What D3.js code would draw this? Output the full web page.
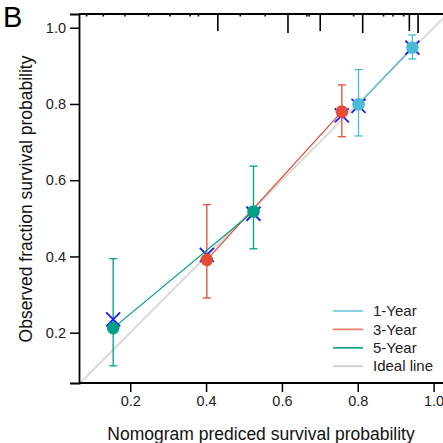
<!DOCTYPE html>
<html>
<head>
<meta charset="utf-8">
<script src="https://cdn.jsdelivr.net/npm/d3@7"></script>
<style>
  html, body { margin: 0; padding: 0; background: #fff; }
  svg { display: block; font-family: "Liberation Sans", Arial, sans-serif; }
</style>
</head>
<body>
<script>
// calibration series (predicted, observed, lower, upper, bias-corrected)
const groups = ["1-Year", "3-Year", "5-Year"];
const groupColors = ["#4DBBD5", "#E64B35", "#00A087"];

const predicted = [[0.802, 0.944], [0.402, 0.758], [0.155, 0.525]];
const observed = [[0.799, 0.948], [0.391, 0.780], [0.212, 0.518]];
const lower = [[0.716, 0.918], [0.291, 0.714], [0.113, 0.420]];
const upper = [[0.890, 0.981], [0.536, 0.850], [0.394, 0.637]];
const corrected = [[0.795, 0.948], [0.404, 0.770], [0.235, 0.512]];

// rug of predicted probabilities along the top
const rugX = [0.085, 0.129, 0.186, 0.248, 0.305, 0.358, 0.380, 0.431, 0.490, 0.556,
  0.616, 0.666, 0.672, 0.701, 0.789, 0.813, 0.868, 0.893, 0.921, 0.936, 0.959];
const rugN = [1, 1, 1, 1, 1, 1, 1, 9, 1, 1, 10, 1, 1, 9, 1, 10, 1, 1, 1, 9, 10];

const xTicks = [0.2, 0.4, 0.6, 0.8, 1.0];
const yTicks = [0.2, 0.4, 0.6, 0.8, 1.0];

const width = 443, height = 443;
const margin = { top: 14, right: -1, bottom: 60, left: 79 };

const svg = d3.select("body").append("svg")
  .attr("width", width)
  .attr("height", height);

const x = d3.scaleLinear()
  .domain([0.0649, 1.0274])
  .range([margin.left, width - margin.right]);
const y = d3.scaleLinear()
  .domain([0.068, 1.036])
  .range([height - margin.bottom, margin.top]);

svg.append("defs").append("clipPath").attr("id", "plot")
  .append("rect")
  .attr("x", margin.left).attr("y", margin.top)
  .attr("width", width - margin.right - margin.left)
  .attr("height", height - margin.bottom - margin.top);

// ideal line
svg.append("line")
  .attr("clip-path", "url(#plot)")
  .attr("x1", x(0)).attr("y1", y(0))
  .attr("x2", x(1.1)).attr("y2", y(1.1))
  .attr("stroke", "#dcdcdc")
  .attr("stroke-width", 2.2);

// series
groups.forEach((g, i) => {
  const c = groupColors[i];
  const pts = predicted[i].map((p, j) => ({
    p, o: observed[i][j], lo: lower[i][j], hi: upper[i][j], bc: corrected[i][j]
  }));
  const gg = svg.append("g");

  gg.append("path")
    .datum(pts)
    .attr("fill", "none")
    .attr("stroke", c)
    .attr("stroke-width", 1.25)
    .attr("d", d3.line().x(d => x(d.p)).y(d => y(d.o)));

  const eb = gg.selectAll(".eb").data(pts).join("g")
    .attr("stroke", c).attr("stroke-width", 1.3);
  eb.append("line")
    .attr("x1", d => x(d.p)).attr("x2", d => x(d.p))
    .attr("y1", d => y(d.lo)).attr("y2", d => y(d.hi));
  eb.append("line")
    .attr("x1", d => x(d.p) - 4).attr("x2", d => x(d.p) + 4)
    .attr("y1", d => y(d.lo)).attr("y2", d => y(d.lo));
  eb.append("line")
    .attr("x1", d => x(d.p) - 4).attr("x2", d => x(d.p) + 4)
    .attr("y1", d => y(d.hi)).attr("y2", d => y(d.hi));

  // bias-corrected crosses
  gg.selectAll(".bc").data(pts).join("path")
    .attr("fill", "none")
    .attr("stroke", "#1a1aff")
    .attr("stroke-width", 1.8)
    .attr("d", d => {
      const cx = x(d.p), cy = y(d.bc), s = 7;
      return `M${cx - s},${cy - s}L${cx + s},${cy + s}M${cx - s},${cy + s}L${cx + s},${cy - s}`;
    });

  gg.selectAll("circle").data(pts).join("circle")
    .attr("cx", d => x(d.p))
    .attr("cy", d => y(d.o))
    .attr("r", 6.3)
    .attr("fill", c);
});

// axes
const xAxis = svg.append("g")
  .attr("transform", `translate(0,${height - margin.bottom})`)
  .call(d3.axisBottom(x).tickValues(xTicks).tickFormat(d3.format(".1f")).tickSize(9).tickPadding(4));
const yAxis = svg.append("g")
  .attr("transform", `translate(${margin.left},0)`)
  .call(d3.axisLeft(y).tickValues(yTicks).tickFormat(d3.format(".1f")).tickSize(9).tickPadding(4));
[xAxis, yAxis].forEach(a => {
  a.select(".domain").attr("stroke", "#000").attr("stroke-width", 1.8);
  a.selectAll(".tick line").attr("stroke", "#000").attr("stroke-width", 1.5);
  a.selectAll(".tick text")
    .attr("fill", "#222")
    .style("font-size", "14.5px")
    .style("font-family", "Liberation Sans, Arial, sans-serif");
});
xAxis.select(".domain").attr("d", `M${margin.left},0H${width + 2}`);

// top line with rug
svg.append("line")
  .attr("x1", margin.left).attr("x2", width + 2)
  .attr("y1", margin.top).attr("y2", margin.top)
  .attr("stroke", "#000").attr("stroke-width", 1.8);

const rugLen = d3.scaleLinear().domain([0, 10]).range([0, 19]);
svg.append("g")
  .selectAll("line")
  .data(rugX)
  .join("line")
  .attr("x1", d => x(d)).attr("x2", d => x(d))
  .attr("y1", margin.top)
  .attr("y2", (d, i) => margin.top + Math.max(rugLen(rugN[i]), 2.5))
  .attr("stroke", "#000")
  .attr("stroke-width", 1.6);

// axis titles
svg.append("text")
  .attr("x", 261).attr("y", 440)
  .attr("text-anchor", "middle")
  .style("font-size", "17.5px")
  .attr("fill", "#111")
  .text("Nomogram prediced survival probability");

svg.append("text")
  .attr("transform", `translate(32,199) rotate(-90)`)
  .attr("text-anchor", "middle")
  .style("font-size", "17.5px")
  .attr("fill", "#111")
  .text("Observed fraction survival probability");

// panel label
svg.append("text")
  .attr("x", 3).attr("y", 27)
  .style("font-size", "29px")
  .attr("fill", "#000")
  .text("B");

// legend
const legendLabels = ["1-Year", "3-Year", "5-Year", "Ideal line"];
const legendColors = ["#7fd0e3", "#ee8070", "#1aa88f", "#cfcfcf"];
const legend = svg.append("g")
  .selectAll("g")
  .data(legendLabels)
  .join("g")
  .attr("transform", (d, i) => `translate(333,${311 + i * 18.4})`);
legend.append("line")
  .attr("x1", 0).attr("x2", 30)
  .attr("stroke", (d, i) => legendColors[i])
  .attr("stroke-width", 1.8);
legend.append("text")
  .attr("x", 40).attr("dy", "0.35em")
  .style("font-size", "15px")
  .attr("fill", "#222")
  .text(d => d);
</script>
</body>
</html>
